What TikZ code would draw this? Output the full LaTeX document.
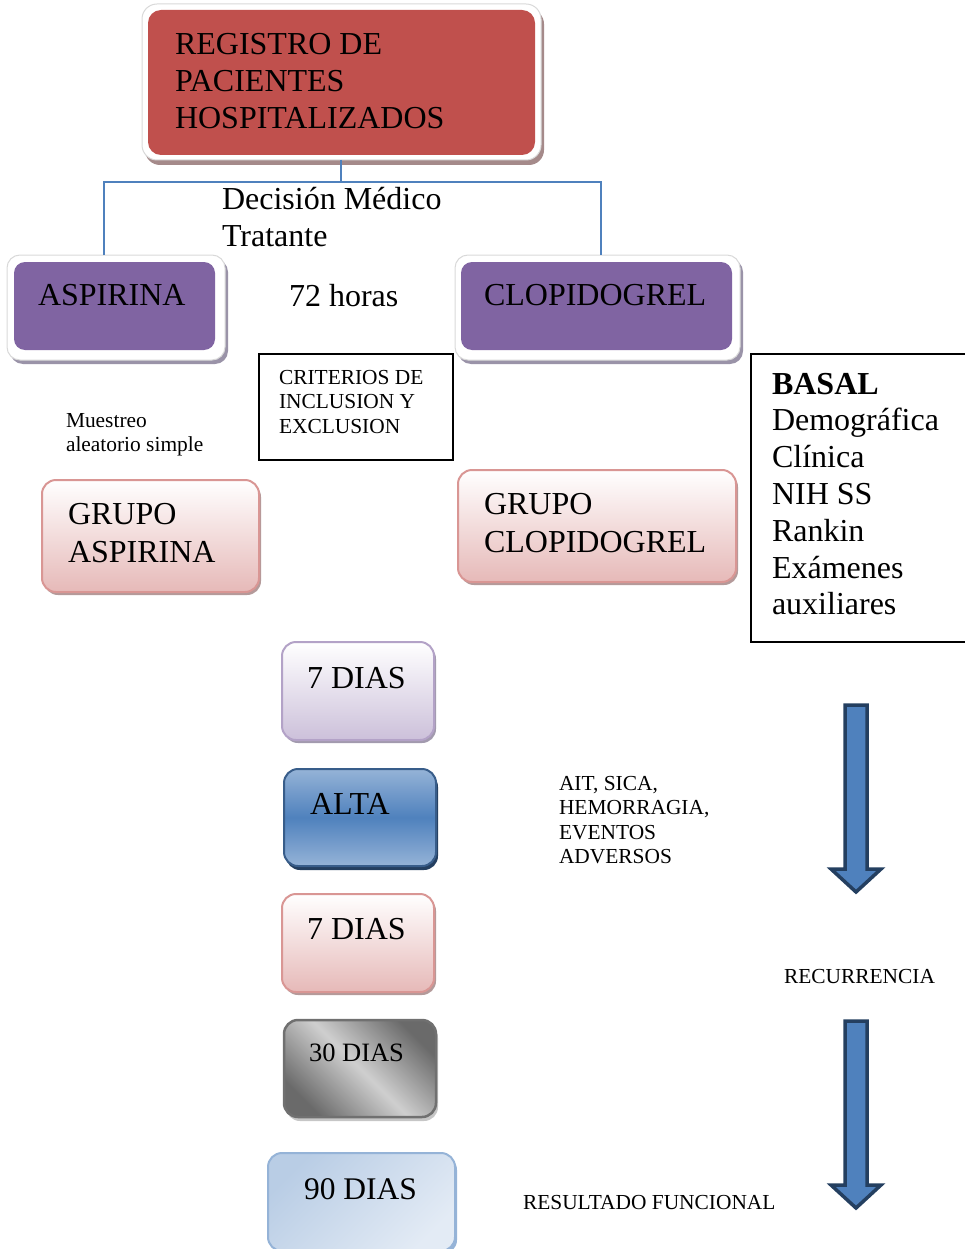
\documentclass[tikz,border=0pt]{standalone}
\usepackage{fontspec}
\setmainfont{Liberation Serif}
\usetikzlibrary{shadows}
\definecolor{regred}{HTML}{C0504D}
\definecolor{regshadow}{HTML}{A58A8A}
\definecolor{purp}{HTML}{8064A2}
\definecolor{purpshadow}{HTML}{9A93A8}
\definecolor{pinkb}{HTML}{E6B9B8}
\definecolor{pinkd}{HTML}{D99694}
\definecolor{pinkshadow}{HTML}{B49A9A}
\definecolor{lavb}{HTML}{CCC0DA}
\definecolor{lavd}{HTML}{B3A2C7}
\definecolor{lavshadow}{HTML}{A29AAE}
\definecolor{bluelt}{HTML}{95B3D7}
\definecolor{bluemd}{HTML}{4F81BD}
\definecolor{bluedk}{HTML}{385D8A}
\definecolor{navy}{HTML}{243F60}
\definecolor{grdk}{HTML}{6A6A6A}
\definecolor{grlt}{HTML}{CFCFCF}
\definecolor{grbd}{HTML}{707070}
\definecolor{skyA}{HTML}{B9CDE5}
\definecolor{skyB}{HTML}{E3EBF5}
\definecolor{skyd}{HTML}{95B3D7}
\begin{document}
\begin{tikzpicture}[x=1pt,y=1pt,
  box/.style={rectangle,inner sep=0pt,outer sep=0pt},
  frame/.style={box,fill=white,draw=gray!30,line width=1pt,rounded corners=15pt},
  txt/.style={anchor=base west,inner sep=0pt,outer sep=0pt},
  big/.style={font=\fontsize{32}{37}\selectfont},
  small/.style={font=\fontsize{21.4}{24.6}\selectfont},
  conn/.style={draw=bluemd,line width=1.6pt},
  plain/.style={box,draw=black,line width=1.6pt},
  bigarrow/.style={fill=bluemd,draw=navy,line width=3.5pt,line join=miter}
]
\useasboundingbox (0,0) rectangle (964,-1249);

% --- top box
\node[frame,minimum width=399pt,minimum height=156pt,
  drop shadow={shadow xshift=3pt,shadow yshift=-5pt,fill=regshadow,opacity=1}]
  (regf) at (341.5,-82) {};
\node[box,fill=regred,rounded corners=13pt,minimum width=387pt,minimum height=145pt]
  (reg) at (341.5,-82.5) {};
\node[txt,big] (regtext) at (175,-55)
  {\begin{tabular}[t]{@{}l@{}}REGISTRO DE\\PACIENTES\\HOSPITALIZADOS\end{tabular}};

% --- aspirina / clopidogrel
\node[frame,minimum width=218pt,minimum height=105pt,rounded corners=13pt,
  drop shadow={shadow xshift=3pt,shadow yshift=-4pt,fill=purpshadow,opacity=1}]
  (aspf) at (116,-307.5) {};
\node[box,fill=purp,rounded corners=11pt,minimum width=201pt,minimum height=88pt]
  (asp) at (114.5,-306) {};
\node[txt,big] (asptext) at (38,-305) {ASPIRINA};

\node[frame,minimum width=285pt,minimum height=105pt,rounded corners=13pt,
  drop shadow={shadow xshift=3pt,shadow yshift=-4pt,fill=purpshadow,opacity=1}]
  (clopf) at (597.5,-307.5) {};
\node[box,fill=purp,rounded corners=11pt,minimum width=271pt,minimum height=88pt]
  (clop) at (596.5,-306) {};
\node[txt,big] (cloptext) at (484,-305) {CLOPIDOGREL};

% --- connector
\coordinate (jc) at (341,-182);
\coordinate (jl) at (104,-182);
\coordinate (jr) at (601,-182);
\draw[conn] (regf.south -| jc) -- (jc);
\draw[conn] (aspf.north -| jl) -- (jl) -- (jr) -- (clopf.north -| jr);

\node[txt,big] (dec) at (222,-210)
  {\begin{tabular}[t]{@{}l@{}}Decisión Médico\\Tratante\end{tabular}};
\node[txt,big] (h72) at (289,-306) {72 horas};

% --- criterios
\node[plain,minimum width=194pt,minimum height=106pt] (crit) at (356,-407) {};
\node[txt,small] (crittext) at (279,-384)
  {\begin{tabular}[t]{@{}l@{}}CRITERIOS DE\\INCLUSION Y\\EXCLUSION\end{tabular}};

\node[txt,small] (mues) at (66,-427)
  {\begin{tabular}[t]{@{}l@{}}Muestreo\\aleatorio simple\end{tabular}};

% --- basal
\node[plain,minimum width=219pt,minimum height=288pt] (basal) at (860.5,-498) {};
\node[txt,big] (basaltext) at (772,-394)
  {\fontsize{32}{36.8}\selectfont\begin{tabular}[t]{@{}l@{}}\textbf{BASAL}\\Demográfica\\Clínica\\NIH SS\\Rankin\\Exámenes\\auxiliares\end{tabular}};

% --- grupos
\node[box,rounded corners=14pt,top color=white,bottom color=pinkb,draw=pinkd,line width=2pt,
  minimum width=217pt,minimum height=112pt,
  drop shadow={shadow xshift=2pt,shadow yshift=-3pt,fill=pinkshadow,opacity=1}]
  (gasp) at (150.5,-536) {};
\node[txt,big] (gasptext) at (68,-524)
  {\fontsize{32}{38}\selectfont\begin{tabular}[t]{@{}l@{}}GRUPO\\ASPIRINA\end{tabular}};

\node[box,rounded corners=14pt,top color=white,bottom color=pinkb,draw=pinkd,line width=2pt,
  minimum width=278pt,minimum height=112pt,
  drop shadow={shadow xshift=2pt,shadow yshift=-3pt,fill=pinkshadow,opacity=1}]
  (gclop) at (597,-526) {};
\node[txt,big] (gcloptext) at (484,-514)
  {\fontsize{32}{38}\selectfont\begin{tabular}[t]{@{}l@{}}GRUPO\\CLOPIDOGREL\end{tabular}};

% --- timeline
\node[box,rounded corners=14pt,top color=white,bottom color=lavb,draw=lavd,line width=2pt,
  minimum width=152pt,minimum height=98pt,
  drop shadow={shadow xshift=2pt,shadow yshift=-3pt,fill=lavshadow,opacity=1}]
  (d7a) at (358,-691) {};
\node[txt,big] (d7atext) at (307,-688) {7 DIAS};

\node[box,rounded corners=14pt,top color=bluelt,bottom color=bluelt,middle color=bluemd,
  draw=bluedk,line width=2pt,minimum width=152pt,minimum height=97pt,
  drop shadow={shadow xshift=2pt,shadow yshift=-4pt,fill=navy,opacity=1}]
  (alta) at (360,-817.5) {};
\node[txt,big] (altatext) at (310,-814) {ALTA};

\node[txt,small] (ait) at (559,-790)
  {\begin{tabular}[t]{@{}l@{}}AIT, SICA,\\HEMORRAGIA,\\EVENTOS\\ADVERSOS\end{tabular}};

\node[box,rounded corners=14pt,top color=white,bottom color=pinkb,draw=pinkd,line width=2pt,
  minimum width=152pt,minimum height=98pt,
  drop shadow={shadow xshift=2pt,shadow yshift=-3pt,fill=pinkshadow,opacity=1}]
  (d7b) at (358,-943) {};
\node[txt,big] (d7btext) at (307,-939) {7 DIAS};

\node[box,rounded corners=14pt,left color=grdk,right color=grdk,middle color=grlt,
  shading angle=135,draw=grbd,line width=2.5pt,minimum width=152pt,minimum height=97pt,
  drop shadow={shadow xshift=2pt,shadow yshift=-4pt,fill=gray!45,opacity=1}]
  (d30) at (360,-1068.5) {};
\node[txt,font=\fontsize{26.5}{30}\selectfont] (d30text) at (309,-1061) {30 DIAS};

\node[box,rounded corners=14pt,top color=skyA,bottom color=skyB,shading angle=45,
  draw=skyd,line width=2pt,minimum width=187pt,minimum height=98pt,
  drop shadow={shadow xshift=2pt,shadow yshift=-3pt,fill=bluelt,opacity=1}]
  (d90) at (361.5,-1202) {};
\node[txt,font=\fontsize{31.5}{36}\selectfont] (d90text) at (304,-1199) {90 DIAS};

% --- right side arrows and labels
\draw[bigarrow] (845,-705) -- (867,-705) -- (867,-869) -- (881,-869) -- (856,-892)
  -- (831,-869) -- (845,-869) -- cycle;
\node[txt,small] (recur) at (784,-983) {RECURRENCIA};
\draw[bigarrow] (845,-1021) -- (867,-1021) -- (867,-1185) -- (881,-1185) -- (856,-1208)
  -- (831,-1185) -- (845,-1185) -- cycle;
\node[txt,small] (resfun) at (523,-1209) {RESULTADO FUNCIONAL};
\end{tikzpicture}
\end{document}
